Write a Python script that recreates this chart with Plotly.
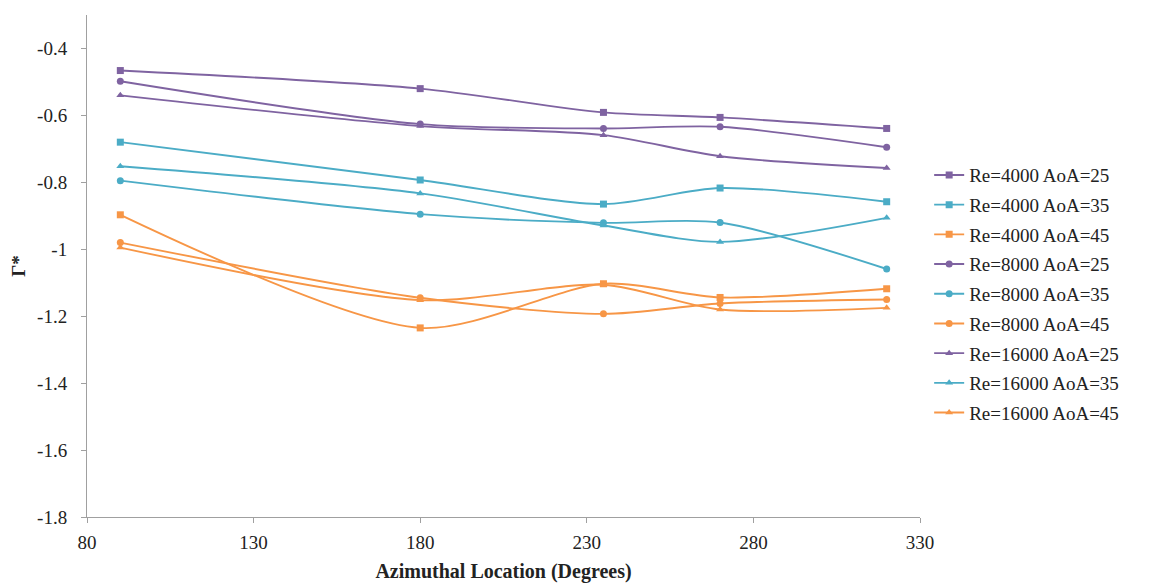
import plotly.graph_objects as go

azimuth = [90, 180, 235, 270, 320]

names = [
    "Re=4000 AoA=25", "Re=4000 AoA=35", "Re=4000 AoA=45",
    "Re=8000 AoA=25", "Re=8000 AoA=35", "Re=8000 AoA=45",
    "Re=16000 AoA=25", "Re=16000 AoA=35", "Re=16000 AoA=45",
]

re4000_aoa25 = [-0.466, -0.520, -0.591, -0.606, -0.639]
re4000_aoa35 = [-0.680, -0.793, -0.865, -0.817, -0.858]
re4000_aoa45 = [-0.897, -1.235, -1.103, -1.144, -1.118]
re8000_aoa25 = [-0.498, -0.626, -0.639, -0.634, -0.695]
re8000_aoa35 = [-0.795, -0.895, -0.921, -0.920, -1.059]
re8000_aoa45 = [-0.980, -1.145, -1.193, -1.162, -1.150]
re16000_aoa25 = [-0.540, -0.632, -0.659, -0.722, -0.757]
re16000_aoa35 = [-0.752, -0.833, -0.929, -0.978, -0.906]
re16000_aoa45 = [-0.995, -1.152, -1.106, -1.180, -1.175]

series = [re4000_aoa25, re4000_aoa35, re4000_aoa45,
          re8000_aoa25, re8000_aoa35, re8000_aoa45,
          re16000_aoa25, re16000_aoa35, re16000_aoa45]

y_ticks = [-1.8, -1.6, -1.4, -1.2, -1.0, -0.8, -0.6, -0.4]
y_tick_text = ["-1.8", "-1.6", "-1.4", "-1.2", "-1", "-0.8", "-0.6", "-0.4"]
x_ticks = [80, 130, 180, 230, 280, 330]

colors = ["#7F63A1", "#4BACC6", "#F79646"]
symbols = ["square", "circle", "triangle-up"]

SERIF = "Liberation Serif, Times New Roman, serif"

fig = go.Figure()
for i, (name, ys) in enumerate(zip(names, series)):
    c = colors[i % 3]
    s = symbols[i // 3]
    fig.add_trace(go.Scatter(
        x=azimuth, y=ys, name=name, mode="lines+markers", legendgroup=name,
        line=dict(color=c, width=1.9, shape="spline", smoothing=0.8),
        marker=dict(color=c, symbol=s, size=7),
    ))

fig.update_layout(
    width=1141, height=575,
    paper_bgcolor="white", plot_bgcolor="white",
    margin=dict(l=79, r=229, t=7, b=66),
    font=dict(family=SERIF, size=19, color="#222222"),
    xaxis=dict(
        range=[80, 330], tickvals=x_ticks, showgrid=False, zeroline=False,
        showline=True, linecolor="#a0a0a0", linewidth=1,
        ticks="outside", ticklen=5, tickcolor="#a0a0a0",
        ticklabelstandoff=3, automargin=False,
        tickfont=dict(family=SERIF, size=19, color="#222222"),
        title=dict(text="<b>Azimuthal Location (Degrees)</b>", standoff=12,
                   font=dict(family=SERIF, size=20, color="#222222")),
    ),
    yaxis=dict(
        range=[-1.8, -0.3], tickvals=y_ticks, ticktext=y_tick_text,
        showgrid=False, zeroline=False,
        showline=True, linecolor="#a0a0a0", linewidth=1,
        ticks="outside", ticklen=5, tickcolor="#a0a0a0",
        ticklabelstandoff=10, automargin=False,
        tickfont=dict(family=SERIF, size=19, color="#222222"),
        title=dict(text="<b>Γ*</b>", standoff=22,
                   font=dict(family=SERIF, size=19, color="#222222")),
    ),
    legend=dict(
        x=1.011, xanchor="left", y=0.444, yanchor="middle",
        font=dict(family=SERIF, size=19, color="#222222"),
        itemwidth=30, tracegroupgap=2, bgcolor="rgba(0,0,0,0)",
    ),
)

fig.write_html("out.html")
